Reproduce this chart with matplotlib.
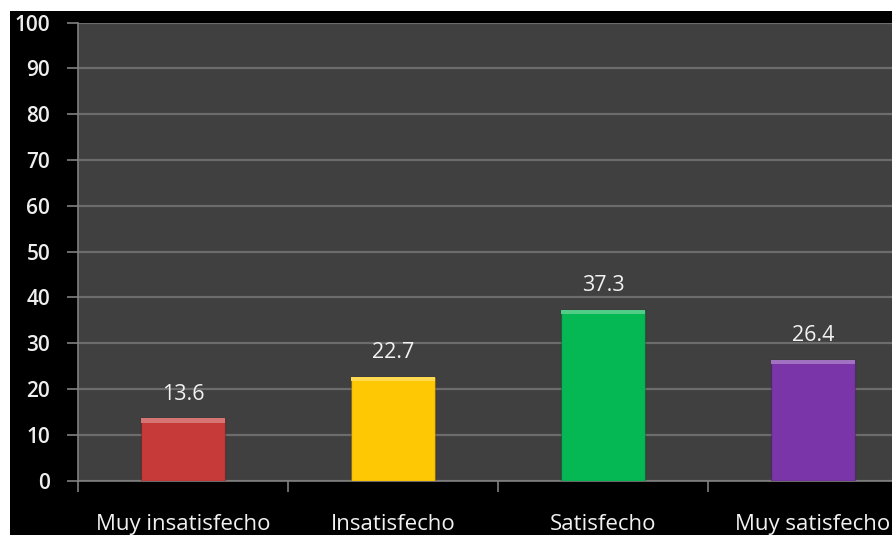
import matplotlib.pyplot as plt
import matplotlib.colors as mcolors
from matplotlib.patches import Rectangle

categories = ["Muy insatisfecho", "Insatisfecho", "Satisfecho", "Muy satisfecho"]
values = [13.6, 22.7, 37.3, 26.4]
colors = ["#c63a3a", "#ffc805", "#06b853", "#7a35a8"]
yticks = [0, 10, 20, 30, 40, 50, 60, 70, 80, 90, 100]

plt.rcParams['font.family'] = ['Open Sans', 'DejaVu Sans']


def lighter(c, f=0.3):
    r, g, b = mcolors.to_rgb(c)
    return (r + (1 - r) * f, g + (1 - g) * f, b + (1 - b) * f)


fig = plt.figure(figsize=(8.92, 5.35), dpi=100)
fig.patch.set_facecolor("white")
# black frame area, white margin on the top and left
fig.patches.append(Rectangle((10 / 892, 0), 1, 1 - 11 / 535, transform=fig.transFigure,
                             facecolor="black", edgecolor="none", zorder=-10))

ax = fig.add_axes([78 / 892, (535 - 480.7) / 535, 840 / 892, 458 / 535])
ax.set_facecolor("#404040")

x = range(len(categories))
bars = ax.bar(x, values, width=0.4, color=colors, edgecolor="#00000030", linewidth=1, zorder=3)
# light bevel on top of each bar
ax.bar(x, [1.0] * len(values), bottom=[v - 1.0 for v in values], width=0.4,
       color=[lighter(c) for c in colors], linewidth=0, zorder=4)
for b, v in zip(bars, values):
    ax.text(b.get_x() + b.get_width() / 2, v + 3.0, f"{v:.1f}", ha="center", va="bottom",
            color="#f2f2f2", fontsize=15.5)

ax.set_ylim(0, 100)
ax.set_xlim(-0.5, 3.5)
ax.set_yticks(yticks)
ax.set_yticklabels([str(t) for t in yticks], fontsize=15, color="#eeeeee", fontweight="semibold")
ax.grid(axis="y", color="#6c6c6c", linewidth=1.6, zorder=1)

ax.set_xticks([-0.5, 0.5, 1.5, 2.5, 3.5])
ax.set_xticklabels([])
ax.set_xticks(list(x), minor=True)
ax.set_xticklabels(categories, minor=True, fontsize=16, color="#f2f2f2")
ax.tick_params(axis="x", which="minor", length=0, pad=24)
ax.tick_params(axis="x", which="major", length=8, color="#808080", width=1.2)
ax.tick_params(axis="y", length=8, color="#808080", width=1.2, pad=12)

for s in ["top", "right"]:
    ax.spines[s].set_visible(False)
for s in ["left", "bottom"]:
    ax.spines[s].set_color("#808080")
    ax.spines[s].set_linewidth(1.2)

fig.savefig("out.png", dpi=100, facecolor=fig.get_facecolor())
